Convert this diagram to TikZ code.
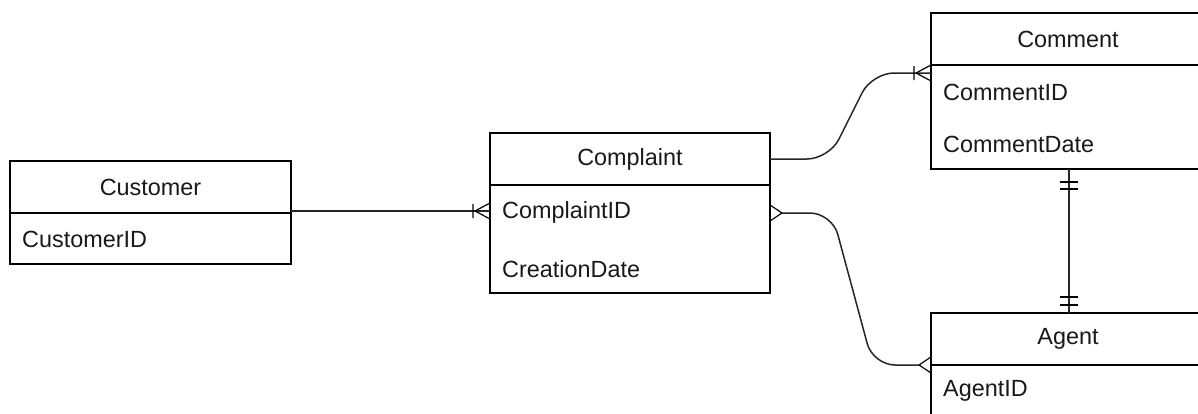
\documentclass[tikz,border=0pt]{standalone}
\usepackage{fontspec}
\setmainfont{Liberation Sans}
\usetikzlibrary{calc}
\newcommand{\erfont}{\fontsize{23.4}{28}\selectfont}
\tikzset{
  entity/.style={draw=black, line width=1.6pt, inner sep=0pt, outer sep=0pt, anchor=north west},
  divider/.style={draw=black, line width=1.6pt},
  conn/.style={draw=black!85, line width=1.5pt},
  foot/.style={draw=black, line width=1.2pt},
  hdr/.style={font=\erfont, inner sep=0pt, text=black!90},
  attr/.style={font=\erfont, inner sep=0pt, anchor=west, text=black!90},
  pics/onemany/.style={code={\draw[foot] (-15,0) -- (0,-8) (-15,0) -- (0,8) (-17,-7) -- (-17,7);}},
  pics/manyonly/.style={code={\draw[foot] (-12,0) -- (0,-8) (-12,0) -- (0,8);}},
}
\begin{document}
\begin{tikzpicture}[x=1pt,y=-1pt]
\clip (0,0) rectangle (1198,413);
\fill[white] (0,0) rectangle (1198,413);

% entities
\node[entity, minimum width=281pt, minimum height=103pt] (cust) at (10,161) {};
\node[entity, minimum width=280pt, minimum height=160pt] (cmpl) at (490,133) {};
\node[entity, minimum width=290pt, minimum height=156pt] (cmnt) at (931,13) {};
\node[entity, minimum width=290pt, minimum height=160pt] (agnt) at (931,313) {};

% header dividers
\draw[divider] ($(cust.north west)+(0,52)$) coordinate (custd) -- (custd -| cust.east);
\draw[divider] ($(cmpl.north west)+(0,52)$) coordinate (cmpld) -- (cmpld -| cmpl.east);
\draw[divider] ($(cmnt.north west)+(0,52)$) coordinate (cmntd) -- (cmntd -| cmnt.east);
\draw[divider] ($(agnt.north west)+(0,52)$) coordinate (agntd) -- (agntd -| agnt.east);

% headers
\node[hdr] (custh) at ($(cust.north)+(0,26)$) {Customer};
\node[hdr] (cmplh) at ($(cmpl.north)+(0,26)$) {Complaint};
\node[hdr] (cmnth) at (1068,39) {Comment};
\node[hdr] (agnth) at (1068,339) {Agent};

% attributes
\node[attr] (custa1) at ($(cust.north west)+(12,78)$) {CustomerID};
\node[attr] (cmpla1) at ($(cmpl.north west)+(12,79)$) {ComplaintID};
\node[attr] (cmpla2) at ($(cmpl.north west)+(12,136)$) {CreationDate};
\node[attr] (cmnta1) at ($(cmnt.north west)+(12,79)$) {CommentID};
\node[attr] (cmnta2) at ($(cmnt.north west)+(12,131)$) {CommentDate};
\node[attr] (agnta1) at ($(agnt.north west)+(12,78)$) {AgentID};

% Customer -- Complaint
\coordinate (e1a) at ($(cust.north east)+(0,50)$);
\coordinate (e1b) at ($(cmpl.north west)+(0,78)$);
\draw[conn] (e1a) -- (e1b);
\pic at (e1b) {onemany};

% Complaint -- Comment
\coordinate (e2a) at ($(cmpl.north east)+(0,26)$);
\coordinate (e2b) at ($(cmnt.north west)+(0,60)$);
\draw[conn, rounded corners=22pt] (e2a) -- ($(e2a)+(59,0)$) -- ($(e2b)+(-59,0)$) -- (e2b);
\pic at (e2b) {onemany};

% Complaint -- Agent
\coordinate (e3a) at ($(cmpl.north east)+(0,80)$);
\coordinate (e3b) at ($(agnt.north west)+(0,52)$);
\draw[conn, rounded corners=22pt] ($(e3a)+(12,0)$) -- ($(e3a)+(62,0)$) -- ($(e3b)+(-58,0)$) -- ($(e3b)+(-11,0)$);
\pic[xscale=-1] at (e3a) {manyonly};
\pic at (e3b) {manyonly};

% Comment -- Agent
\coordinate (e4a) at (cmnt.south -| 1069,0);
\coordinate (e4b) at (agnt.north -| 1069,0);
\draw[conn] (e4a) -- (e4b);
\draw[foot] ($(e4a)+(-9,13)$) -- ($(e4a)+(9,13)$) ($(e4a)+(-9,20)$) -- ($(e4a)+(9,20)$);
\draw[foot] ($(e4b)+(-9,-8)$) -- ($(e4b)+(9,-8)$) ($(e4b)+(-9,-16)$) -- ($(e4b)+(9,-16)$);
\end{tikzpicture}
\end{document}
